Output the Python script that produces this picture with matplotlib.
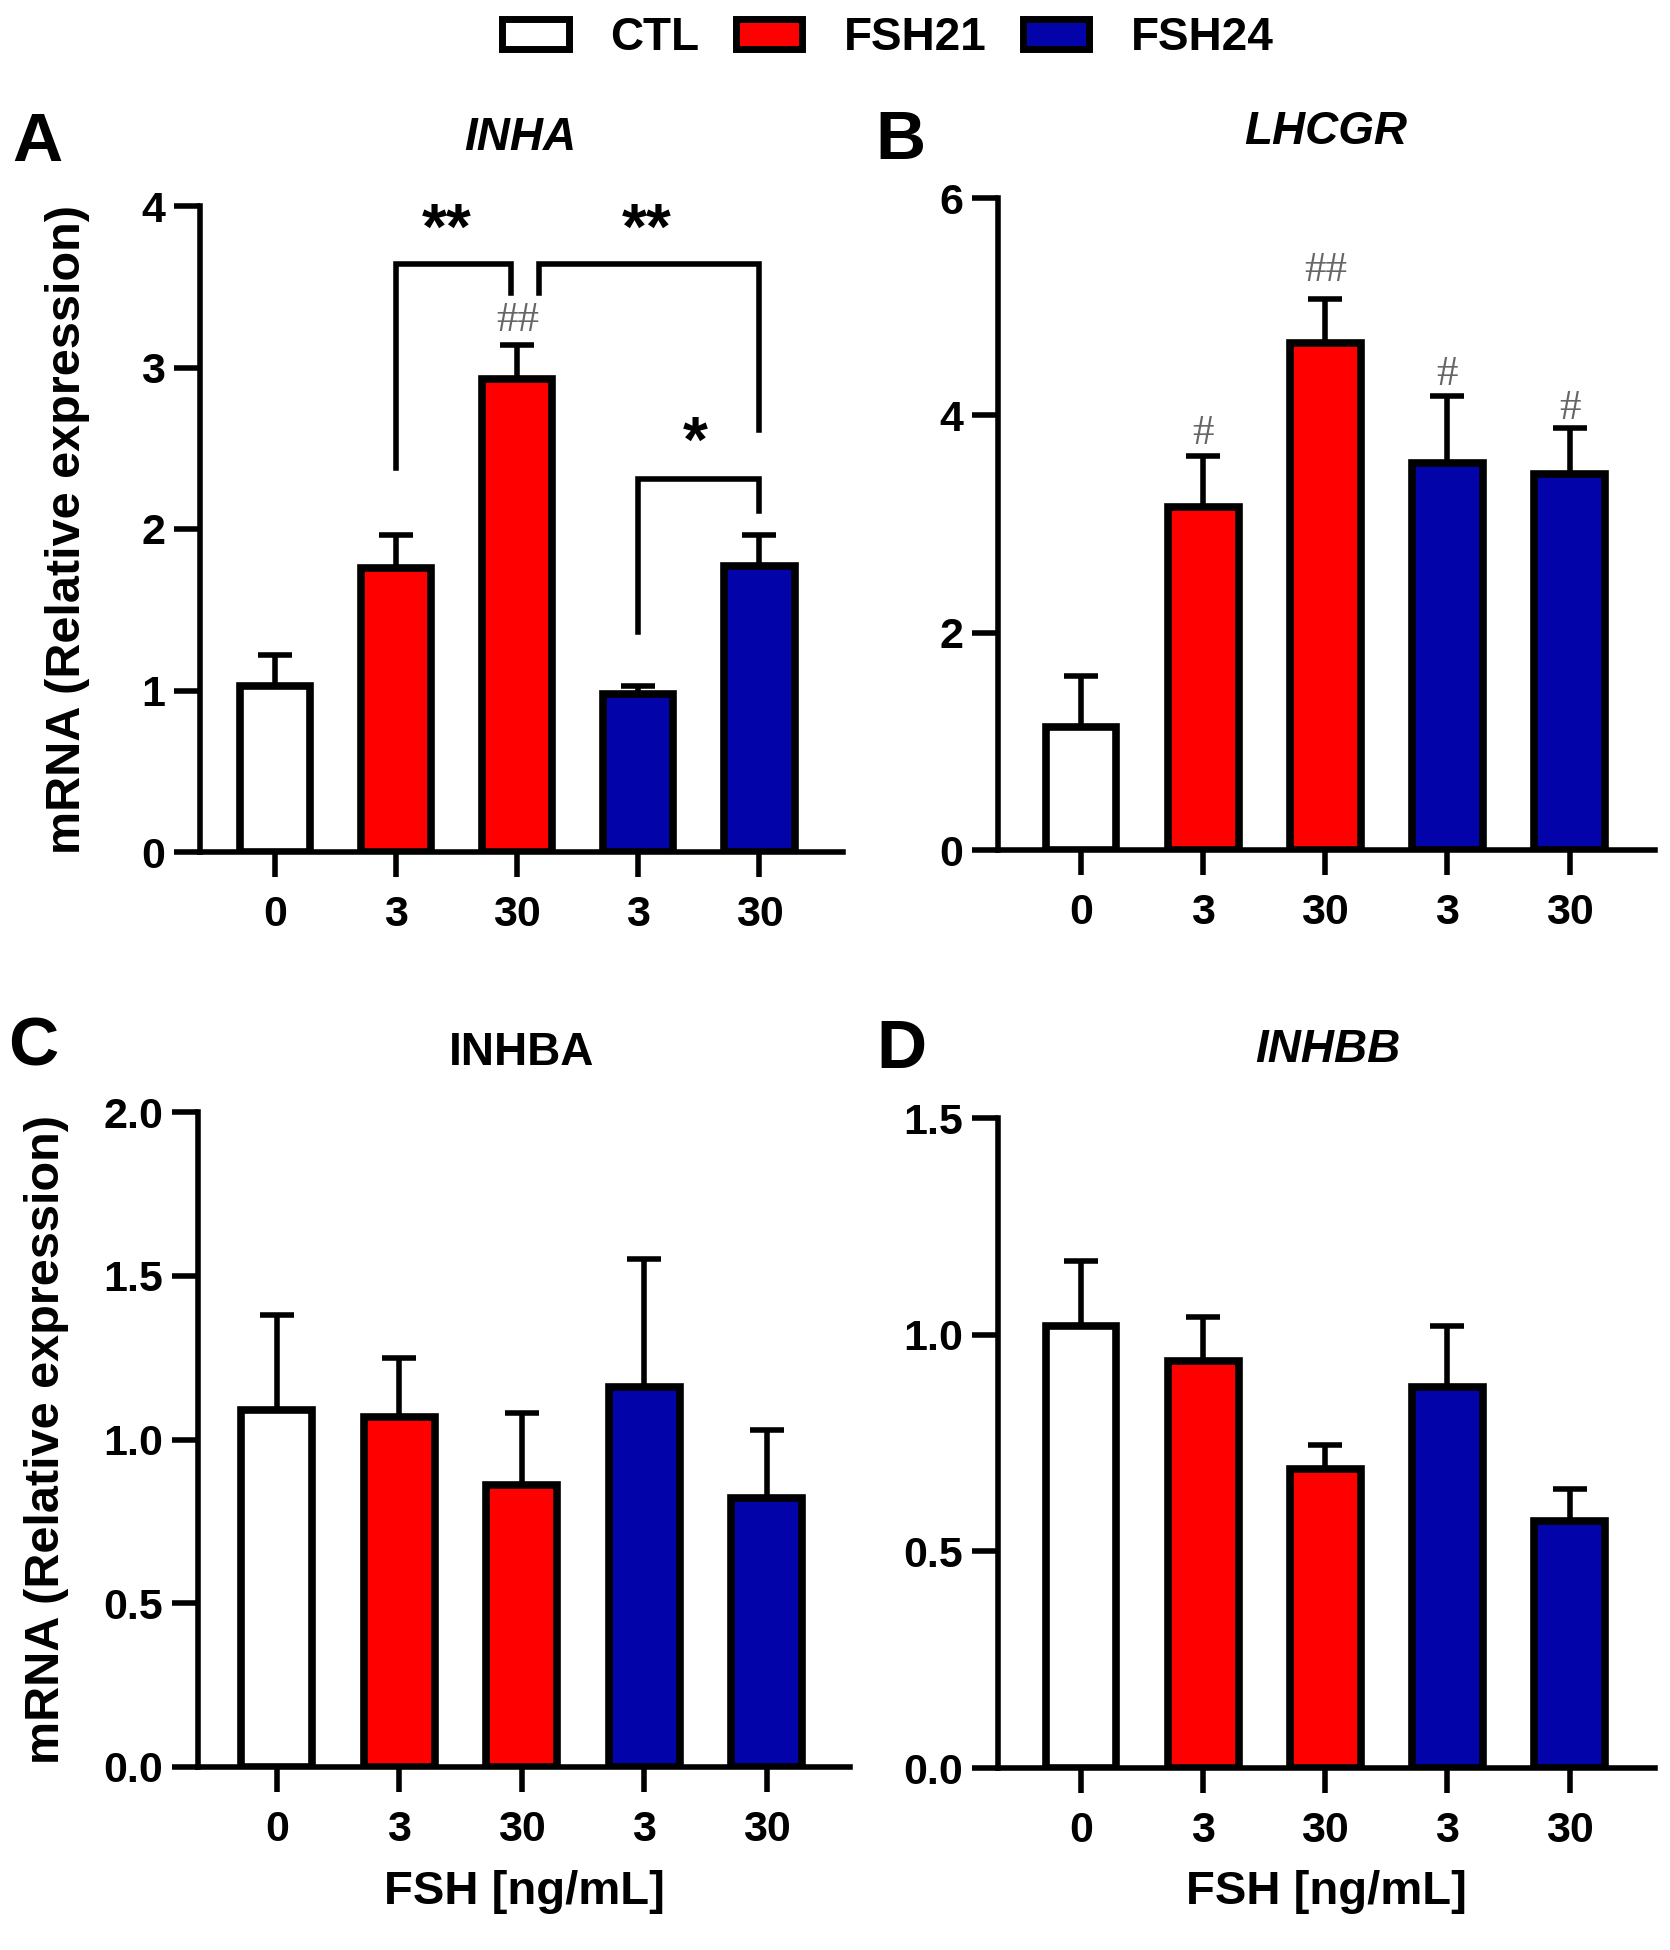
import numpy as np
import matplotlib
matplotlib.use("Agg")
import matplotlib.pyplot as plt
from matplotlib.patches import Patch

plt.rcParams['font.family'] = ['Liberation Sans', 'DejaVu Sans']
plt.rcParams['font.weight'] = 'bold'

# data
groups = ["CTL", "FSH21", "FSH21", "FSH24", "FSH24"]
doses = ["0", "3", "30", "3", "30"]
bar_colors = ["white", "#ff0000", "#ff0000", "#0303aa", "#0303aa"]

inha_mean = [1.03, 1.76, 2.93, 0.98, 1.77]
inha_sem = [0.19, 0.20, 0.21, 0.05, 0.19]
lhcgr_mean = [1.13, 3.16, 4.67, 3.56, 3.46]
lhcgr_sem = [0.47, 0.47, 0.40, 0.62, 0.42]
inhba_mean = [1.09, 1.07, 0.86, 1.16, 0.82]
inhba_sem = [0.29, 0.18, 0.22, 0.39, 0.21]
inhbb_mean = [1.02, 0.94, 0.69, 0.88, 0.57]
inhbb_sem = [0.15, 0.10, 0.055, 0.14, 0.073]

# "#" marks vs CTL (bar index, label, y)
lhcgr_hash = [(1, "#", 3.83), (2, "##", 5.33), (3, "#", 4.37), (4, "#", 4.06)]
inha_hash = [(2, "##", 3.29)]

W, H = 1670, 1950
fig = plt.figure(figsize=(W / 100, H / 100), dpi=100)

def px_axes(left, top, right, bottom):
    return fig.add_axes([left / W, 1 - bottom / H, (right - left) / W, (bottom - top) / H])

def draw_panel(ax, mean, sem, ymax, yticks, xlim, fmt):
    x = np.arange(len(mean))
    ax.errorbar(x, mean, yerr=[np.zeros(len(sem)), sem], fmt='none', ecolor='black',
                elinewidth=4, capsize=12.5, capthick=4, zorder=2)
    ax.bar(x, mean, width=0.58, color=bar_colors, edgecolor='black', linewidth=5.5, zorder=3)
    ax.set_xlim(*xlim)
    ax.set_ylim(0, ymax)
    ax.set_yticks(yticks)
    ax.set_yticklabels([fmt.format(v) for v in yticks])
    ax.set_xticks(x)
    ax.set_xticklabels(doses)
    ax.spines['top'].set_visible(False)
    ax.spines['right'].set_visible(False)
    for s in ['left', 'bottom']:
        ax.spines[s].set_linewidth(4)
    ax.tick_params(axis='y', length=19, width=4, pad=6, labelsize=31)
    ax.tick_params(axis='x', length=18, width=4, pad=13, labelsize=31)

axA = px_axes(200, 206, 843, 852)
draw_panel(axA, inha_mean, inha_sem, 4, [0, 1, 2, 3, 4], (-0.62, 4.69), "{:g}")
axB = px_axes(998, 198, 1655, 850)
draw_panel(axB, lhcgr_mean, lhcgr_sem, 6, [0, 2, 4, 6], (-0.68, 4.70), "{:g}")
axC = px_axes(198, 1112, 850, 1767)
draw_panel(axC, inhba_mean, inhba_sem, 2.0, [0, 0.5, 1.0, 1.5, 2.0], (-0.645, 4.68), "{:.1f}")
axD = px_axes(998, 1118, 1655, 1768)
draw_panel(axD, inhbb_mean, inhbb_sem, 1.5, [0, 0.5, 1.0, 1.5], (-0.68, 4.70), "{:.1f}")

for ax in [axA, axC]:
    ax.set_ylabel("mRNA (Relative expression)", fontsize=35, fontweight='bold')
axA.yaxis.set_label_coords(-0.171, 0.5)
axC.yaxis.set_label_coords(-0.198, 0.5)
for ax in [axC, axD]:
    ax.set_xlabel("FSH [ng/mL]", fontsize=34, fontweight='bold', labelpad=14)

# significance brackets on INHA
brackets = [
    (1.0, 1.95, 2.38, 3.46, 3.64),
    (2.18, 4.0, 3.46, 2.61, 3.64),
    (3.0, 4.0, 1.36, 2.11, 2.31),
]
for x1, x2, y1, y2, top in brackets:
    axA.plot([x1, x1, x2, x2], [y1, top, top, y2], color='black', lw=4,
             solid_joinstyle='miter', clip_on=False, zorder=4)
stars = [(1.42, 3.84, "**"), (3.07, 3.84, "**"), (3.47, 2.52, "*")]
for sx, sy, s in stars:
    axA.text(sx, sy, s, ha='center', va='center', fontsize=46, fontweight='bold')

for ax, marks in [(axA, inha_hash), (axB, lhcgr_hash)]:
    for i, lab, yy in marks:
        ax.text(i, yy, lab, ha='center', va='center', fontsize=31, color='#666666',
                family='Liberation Serif', fontweight='normal')

# panel letters and titles
letters = [("A", 37, 143), ("B", 900, 141), ("C", 33, 1047), ("D", 901, 1050)]
for t, lx, ly in letters:
    fig.text(lx / W, 1 - ly / H, t, ha='center', va='center', fontsize=50, fontweight='bold')
titles = [("INHA", 520, 138, 'italic'), ("LHCGR", 1326, 132, 'italic'),
          ("INHBA", 522, 1053, 'normal'), ("INHBB", 1328, 1050, 'italic')]
for t, tx, ty, st in titles:
    fig.text(tx / W, 1 - ty / H, t, ha='center', va='center', fontsize=33,
             fontweight='bold', style=st)

# legend
handles = [Patch(facecolor=c, edgecolor='black', linewidth=5) for c in ["white", "#ff0000", "#0303aa"]]
fig.legend(handles, ["CTL", "FSH21", "FSH24"], loc='center', bbox_to_anchor=(888 / W, 1 - 38 / H),
           ncol=3, frameon=False, prop={'size': 33, 'weight': 'bold'},
           handlelength=1.45, handleheight=0.65, handletextpad=0.9, columnspacing=0.8)

fig.savefig("out.png", dpi=100, facecolor='white')
